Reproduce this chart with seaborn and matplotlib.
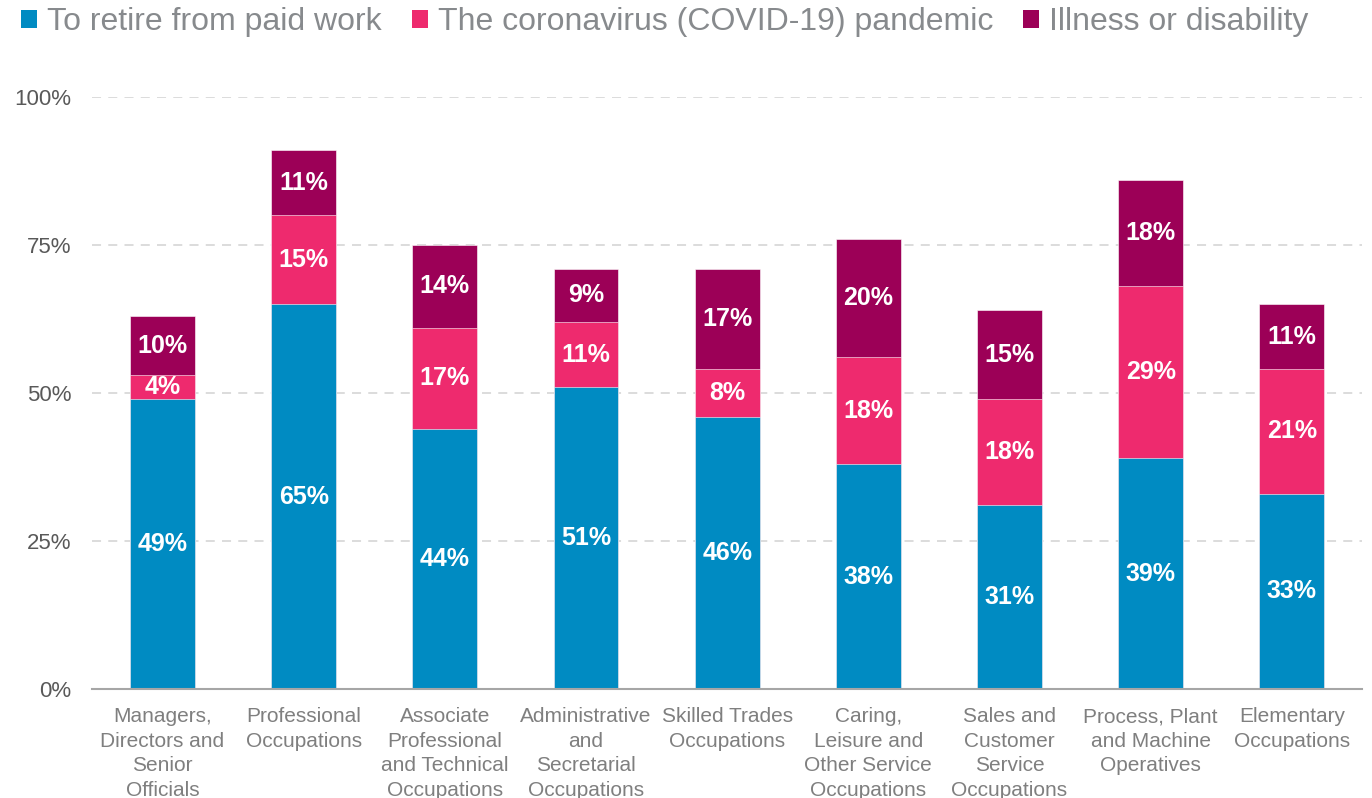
import matplotlib
matplotlib.use("Agg")
import matplotlib.pyplot as plt
import seaborn as sns
import pandas as pd
import numpy as np
from matplotlib.patches import Patch

categories = [
    "Managers,\nDirectors and\nSenior\nOfficials",
    "Professional\nOccupations",
    "Associate\nProfessional\nand Technical\nOccupations",
    "Administrative\nand\nSecretarial\nOccupations",
    "Skilled Trades\nOccupations",
    "Caring,\nLeisure and\nOther Service\nOccupations",
    "Sales and\nCustomer\nService\nOccupations",
    "Process, Plant\nand Machine\nOperatives",
    "Elementary\nOccupations",
]
retire = [49, 65, 44, 51, 46, 38, 31, 39, 33]
covid = [4, 15, 17, 11, 8, 18, 18, 29, 21]
illness = [10, 11, 14, 9, 17, 20, 15, 18, 11]
series_names = ["To retire from paid work", "The coronavirus (COVID-19) pandemic", "Illness or disability"]
colors = ["#008BC2", "#EE2A6E", "#9C0057"]
yticks = [0, 25, 50, 75, 100]

sns.set_style("white")
plt.rcParams["font.family"] = ["Liberation Sans", "DejaVu Sans"]

df = pd.DataFrame({"cat": categories, "a": retire, "b": covid, "c": illness})
df["ab"] = df["a"] + df["b"]
df["abc"] = df["ab"] + df["c"]

fig = plt.figure(figsize=(13.72, 7.98), dpi=100)
ax = fig.add_axes([0.067, 0.1366, 0.926, 0.7418])

bw = 0.46
sns.barplot(data=df, x="cat", y="abc", color=colors[2], width=bw, ax=ax,
            saturation=1, edgecolor="#ffffff", linewidth=0.4, zorder=3)
sns.barplot(data=df, x="cat", y="ab", color=colors[1], width=bw, ax=ax,
            saturation=1, edgecolor="#ffffff", linewidth=0.4, zorder=3)
sns.barplot(data=df, x="cat", y="a", color=colors[0], width=bw, ax=ax,
            saturation=1, edgecolor="#ffffff", linewidth=0.4, zorder=3)

for i in range(len(categories)):
    segs = [(0, retire[i]), (retire[i], covid[i]), (retire[i] + covid[i], illness[i])]
    for base, v in segs:
        ax.text(i, base + v / 2, f"{v}%", ha="center", va="center", color="white",
                fontsize=18, fontweight="bold", zorder=5)

ax.set_ylim(0, 100)
ax.set_xlim(-0.5, len(categories) - 0.5)
ax.set_yticks(yticks)
ax.set_yticklabels([f"{t}%" for t in yticks])
ax.yaxis.grid(True, linestyle=(0, (5, 4)), color="#D9D9D9", linewidth=1.3, zorder=0)
ax.set_axisbelow(True)
for s in ["top", "right", "left"]:
    ax.spines[s].set_visible(False)
ax.spines["bottom"].set_color("#A6A6A6")
ax.spines["bottom"].set_linewidth(1.5)
ax.spines["bottom"].set_zorder(6)
ax.set_xlabel("")
ax.set_ylabel("")
ax.tick_params(axis="y", length=0, pad=15, labelsize=16, labelcolor="#595959")
ax.tick_params(axis="x", length=0, pad=13, labelsize=15, labelcolor="#7F7F7F")
for lbl in ax.get_xticklabels():
    lbl.set_linespacing(1.37)

handles = [Patch(facecolor=c, edgecolor="none") for c in colors]
fig.legend(handles, series_names, loc="center left", bbox_to_anchor=(21 / 1372, 1 - 22 / 798), ncol=3,
           frameon=False, fontsize=23, labelcolor="#878A8D", handlelength=0.5, handleheight=0.5,
           handletextpad=0.31, columnspacing=0.95, borderaxespad=0, borderpad=0)

fig.savefig("out.png", dpi=100)
